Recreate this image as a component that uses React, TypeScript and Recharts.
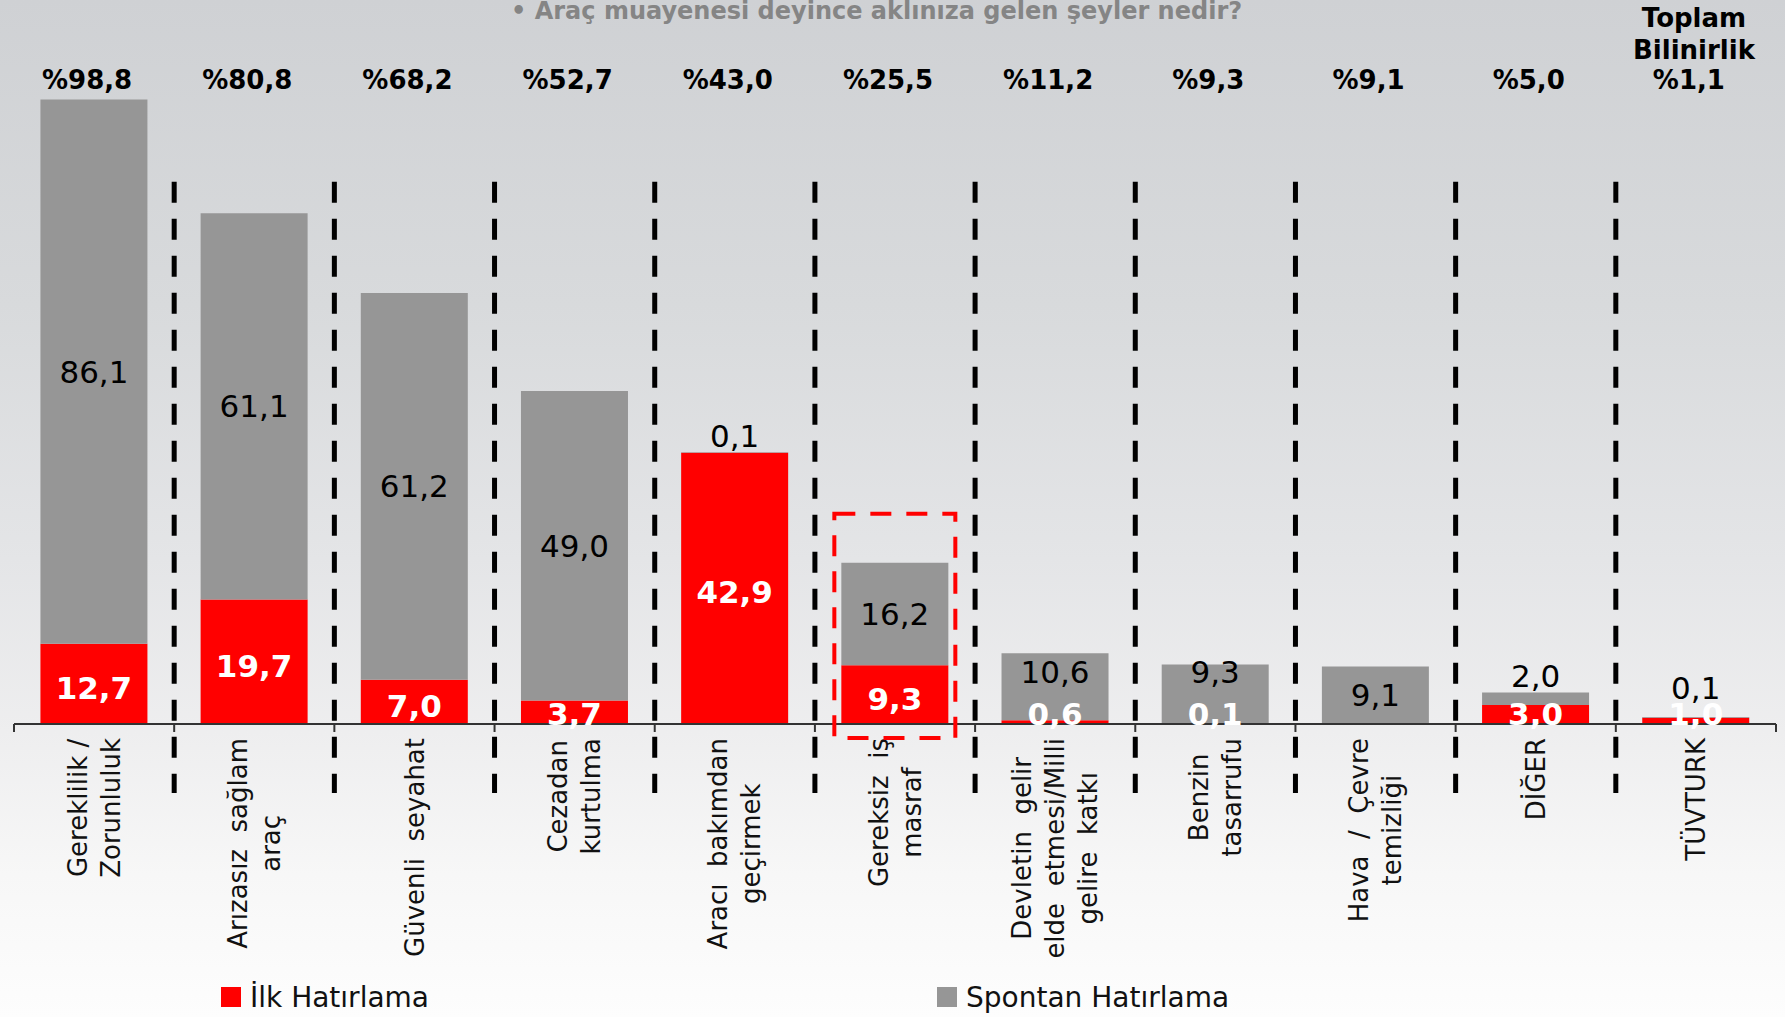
import React from "react";
import { BarChart, Bar, XAxis, YAxis, LabelList, ReferenceLine, Legend } from "recharts";

const categories = [
  "Gereklilik /\nZorunluluk",
  "Arızasız  sağlam\naraç",
  "Güvenli  seyahat",
  "Cezadan\nkurtulma",
  "Aracı  bakımdan\ngeçirmek",
  "Gereksiz  iş\nmasraf",
  "Devletin  gelir\nelde  etmesi/Milli\ngelire  katkı",
  "Benzin\ntasarrufu",
  "Hava  /  Çevre\ntemizliği",
  "DİĞER",
  "TÜVTURK",
];
const ilkHatirlama = [12.7, 19.7, 7.0, 3.7, 42.9, 9.3, 0.6, 0.1, 0, 3.0, 1.0];
const spontanHatirlama = [86.1, 61.1, 61.2, 49.0, 0.1, 16.2, 10.6, 9.3, 9.1, 2.0, 0.1];
const toplamBilinirlik = ["%98,8", "%80,8", "%68,2", "%52,7", "%43,0", "%25,5", "%11,2", "%9,3", "%9,1", "%5,0", "%1,1"];
const seriesNames = ["İlk Hatırlama", "Spontan Hatırlama"];
const highlightIndex = 5; // "Gereksiz iş masraf" kutusu

const data = categories.map((name, i) => ({
  name,
  ilk: ilkHatirlama[i],
  spontan: spontanHatirlama[i],
}));

const FONT = "'DejaVu Sans', Verdana, sans-serif";
const RED = "#ff0000";
const GRAY = "#969696";
const SEP_TOP = 85.8;
const SEP_BOTTOM = -10.9;

const fmt = (v: number) => v.toFixed(1).replace(".", ",");

let ctx: CanvasRenderingContext2D | null = null;
const measure = (s: string, font: string) => {
  if (!ctx) ctx = document.createElement("canvas").getContext("2d");
  if (!ctx) return s.length * 14;
  ctx.font = font;
  return ctx.measureText(s).width;
};

const CategoryTick = (props: any) => {
  const { x, y, payload, index } = props;
  const half = payload.offset || 0;
  const lines = String(payload.value).split("\n");
  const max = Math.max(...lines.map((l) => measure(l, "26px 'DejaVu Sans'")));
  const cy = y + 14 + max / 2;
  const n = lines.length;
  return (
    <g>
      <line x1={x - half} x2={x - half} y1={y} y2={y + 8} stroke="#333" strokeWidth={2} />
      {index === categories.length - 1 && (
        <line x1={x + half} x2={x + half} y1={y} y2={y + 8} stroke="#333" strokeWidth={2} />
      )}
      <text
        transform={`translate(${x},${cy}) rotate(-90)`}
        textAnchor="middle"
        fontSize={26}
        fontFamily={FONT}
        fill="#111"
        style={{ whiteSpace: "pre" }}
      >
        {lines.map((l, i) => (
          <tspan key={i} x={0} y={(i - (n - 1) / 2) * 33} dy="0.35em">
            {l}
          </tspan>
        ))}
      </text>
    </g>
  );
};

const TotalTick = (props: any) => {
  const { x, y, index } = props;
  return (
    <text x={x - 7} y={y} textAnchor="middle" fill="#000" fontSize={26} fontWeight="bold" fontFamily={FONT}>
      {toplamBilinirlik[index]}
    </text>
  );
};

const RedLabel = (props: any) => {
  const { x, y, width, height, value } = props;
  if (!value) return null;
  const base = y + height;
  const ly = Math.min(y + height / 2 + 4, base - 10);
  return (
    <text x={x + width / 2} y={ly} textAnchor="middle" dominantBaseline="central"
      fill="#fff" fontWeight="bold" fontSize={31} fontFamily={FONT}>
      {fmt(value)}
    </text>
  );
};

const GrayLabel = (props: any) => {
  const { x, y, width, height, value, index } = props;
  if (!value) return null;
  const red = ilkHatirlama[index];
  const pxPerUnit = height / value;
  const redH = red * pxPerUnit;
  const base = y + height + redH;
  let ly = y + height / 2;
  if (height < 30) ly = Math.min(y - 16, base - 36);
  else if (red > 0 && redH < 40) ly = Math.min(ly, base - 52);
  return (
    <g>
      {index === highlightIndex && (
        <rect x={x - 7} y={y - 49} width={width + 14} height={base + 14 - (y - 49)}
          fill="none" stroke={RED} strokeWidth={4} strokeDasharray="21 15" />
      )}
      <text x={x + width / 2} y={ly} textAnchor="middle" dominantBaseline="central"
        fill="#000" fontSize={31} fontFamily={FONT}>
        {fmt(value)}
      </text>
    </g>
  );
};

const legendLefts = [221, 937];

const renderLegend = (props: any) => {
  const payload = [...(props.payload || [])].sort(
    (a: any, b: any) => seriesNames.indexOf(a.value) - seriesNames.indexOf(b.value)
  );
  return (
    <div style={{ position: "relative", height: 40, width: 1785 }}>
      {payload.map((p: any, i: number) => (
        <div key={i} style={{ position: "absolute", left: legendLefts[i], top: 0, height: 40, display: "flex", alignItems: "center" }}>
          <span style={{ width: 20, height: 20, background: p.color, display: "inline-block", marginRight: 9 }} />
          <span style={{ fontFamily: FONT, fontSize: 28, color: "#111" }}>{p.value}</span>
        </div>
      ))}
    </div>
  );
};

export default function App() {
  return (
    <div
      style={{
        position: "absolute",
        left: 0,
        top: 0,
        width: 1785,
        height: 1017,
        overflow: "hidden",
        background: "linear-gradient(180deg, #cfd1d4 0%, #d8dadc 30%, #e4e5e7 55%, #eeeeef 72%, #f7f7f7 86%, #fdfdfd 100%)",
      }}
    >
      <div style={{ position: "absolute", left: 511, top: -3, fontFamily: FONT, fontWeight: "bold", fontSize: 24, color: "#858585", whiteSpace: "nowrap" }}>
        • Araç muayenesi deyince aklınıza gelen şeyler nedir?
      </div>
      <div style={{ position: "absolute", left: 1594, top: 2, width: 200, textAlign: "center", fontFamily: FONT, fontWeight: "bold", fontSize: 26, lineHeight: "32px", color: "#000" }}>
        Toplam
        <br />
        Bilinirlik
      </div>
      <BarChart
        width={1785}
        height={1017}
        data={data}
        margin={{ top: 60, right: 9, left: 14, bottom: 0 }}
        barCategoryGap="16.5%"
      >
        <XAxis
          xAxisId="top"
          orientation="top"
          dataKey="name"
          height={32}
          axisLine={false}
          tickLine={false}
          tickSize={0}
          tickMargin={3}
          interval={0}
          tick={<TotalTick />}
        />
        <XAxis
          xAxisId="cat"
          dataKey="name"
          height={253}
          axisLine={{ stroke: "#333", strokeWidth: 2 }}
          tickLine={false}
          tickSize={0}
          tickMargin={0}
          interval={0}
          tick={<CategoryTick />}
        />
        <YAxis hide domain={[0, 100]} />
        <Legend verticalAlign="bottom" height={40} content={renderLegend} wrapperStyle={{ left: 0, width: 1785 }} />
        <Bar xAxisId="cat" dataKey="ilk" name={seriesNames[0]} stackId="a" fill={RED} isAnimationActive={false}>
          <LabelList dataKey="ilk" content={<RedLabel />} />
        </Bar>
        <Bar xAxisId="cat" dataKey="spontan" name={seriesNames[1]} stackId="a" fill={GRAY} isAnimationActive={false}>
          <LabelList dataKey="spontan" content={<GrayLabel />} />
        </Bar>
        {categories.slice(1).map((c) => (
          <ReferenceLine
            key={c}
            xAxisId="cat"
            position="start"
            ifOverflow="visible"
            segment={[{ x: c, y: SEP_TOP }, { x: c, y: SEP_BOTTOM }]}
            stroke="#000"
            strokeWidth={5}
            strokeDasharray="21 16"
          />
        ))}
      </BarChart>
    </div>
  );
}
